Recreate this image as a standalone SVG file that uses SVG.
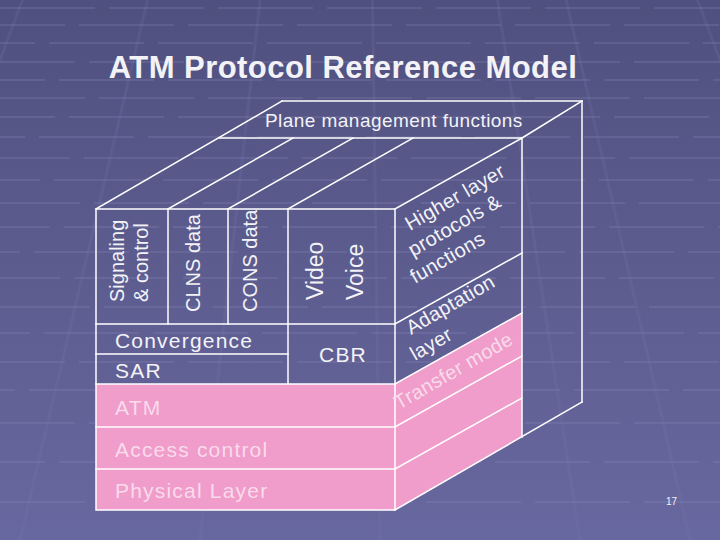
<svg xmlns="http://www.w3.org/2000/svg" width="720" height="540" viewBox="0 0 720 540">
<defs>
<linearGradient id="bg" x1="0" y1="0" x2="0" y2="1">
<stop offset="0" stop-color="#50507f"/>
<stop offset="0.5" stop-color="#5c5c8f"/>
<stop offset="1" stop-color="#6868a0"/>
</linearGradient>
</defs>
<style>
.t{font-family:"Liberation Sans",Arial,sans-serif;fill:#f3f3f7}
.p{fill:#f9dbeb}
.ln{stroke:#ffffff;stroke-width:1.5;fill:none;stroke-linecap:square}
.pk{fill:#f09dcb}
.gh{stroke:#8a8abb;stroke-width:2;opacity:.25;stroke-dasharray:95 14}
.gd{stroke:#7c7cb0;stroke-width:3;opacity:.18}
.col{font-size:20px}
.vv{font-size:23px}
.fr{font-size:21px;letter-spacing:1.2px}
.sd{font-size:20px;letter-spacing:.3px}
</style>
<g id="background">
<rect width="720" height="540" fill="url(#bg)"/>
<g class="gh">
<line x1="0" y1="8" x2="720" y2="8"/><line x1="-30" y1="25" x2="720" y2="25"/>
<line x1="-60" y1="43" x2="720" y2="43"/><line x1="-20" y1="62" x2="720" y2="62"/>
<line x1="-50" y1="80" x2="720" y2="80"/><line x1="-10" y1="98" x2="720" y2="98"/>
<line x1="-40" y1="117" x2="720" y2="117"/><line x1="-70" y1="137" x2="720" y2="137"/>
<line x1="-25" y1="158" x2="720" y2="158"/><line x1="-55" y1="180" x2="720" y2="180"/>
<line x1="-15" y1="203" x2="720" y2="203"/><line x1="-45" y1="227" x2="720" y2="227"/>
<line x1="-75" y1="252" x2="720" y2="252"/><line x1="-35" y1="278" x2="720" y2="278"/>
<line x1="-5" y1="307" x2="720" y2="307"/><line x1="-65" y1="333" x2="720" y2="333"/>
<line x1="-30" y1="362" x2="720" y2="362"/><line x1="-80" y1="390" x2="720" y2="390"/>
<line x1="-20" y1="423" x2="720" y2="423"/><line x1="-50" y1="462" x2="720" y2="462"/>
<line x1="-10" y1="502" x2="720" y2="502"/>
</g>
<g class="gd">
<line x1="360" y1="-900" x2="-400" y2="540"/><line x1="360" y1="-900" x2="-180" y2="540"/>
<line x1="360" y1="-900" x2="20" y2="540"/><line x1="360" y1="-900" x2="200" y2="540"/>
<line x1="360" y1="-900" x2="380" y2="540"/><line x1="360" y1="-900" x2="580" y2="540"/>
<line x1="360" y1="-900" x2="690" y2="540"/><line x1="360" y1="-900" x2="900" y2="540"/>
<line x1="360" y1="-900" x2="1120" y2="540"/>
</g>
</g>
<g id="title">
<text class="t" x="343" y="78" text-anchor="middle" font-size="31" font-weight="bold" letter-spacing="0.45">ATM Protocol Reference Model</text>
</g>
<g id="transfer-mode-fill">
<rect class="pk" x="96" y="384" width="299" height="126"/>
<polygon class="pk" points="395,384 522,313 522,437 395,510"/>
</g>
<g id="connectors" class="ln">
<rect x="96" y="209" width="299" height="301"/>
<line x1="96" y1="324" x2="395" y2="324"/>
<line x1="96" y1="354" x2="288" y2="354"/>
<line x1="96" y1="384" x2="395" y2="384"/>
<line x1="96" y1="427" x2="395" y2="427"/>
<line x1="96" y1="469" x2="395" y2="469"/>
<line x1="168" y1="209" x2="168" y2="324"/>
<line x1="228" y1="209" x2="228" y2="324"/>
<line x1="288" y1="209" x2="288" y2="384"/>
<line x1="96" y1="209" x2="282" y2="101"/>
<line x1="168" y1="209" x2="293" y2="138"/>
<line x1="228" y1="209" x2="353" y2="138"/>
<line x1="288" y1="209" x2="413" y2="138"/>
<polyline points="395,209 522,138 582,101"/>
<line x1="219" y1="138" x2="522" y2="138"/>
<line x1="282" y1="101" x2="582" y2="101"/>
<line x1="582" y1="101" x2="582" y2="402"/>
<line x1="522" y1="138" x2="522" y2="437"/>
<line x1="395" y1="324" x2="522" y2="253"/>
<line x1="395" y1="384" x2="522" y2="313"/>
<line x1="395" y1="427" x2="522" y2="356"/>
<line x1="395" y1="469" x2="522" y2="398"/>
<line x1="395" y1="510" x2="582" y2="402"/>
</g>
<g id="plane-management">
<text class="t" x="265" y="127" font-size="19" letter-spacing="0.45">Plane management functions</text>
</g>
<g id="signaling">
<text class="t col" transform="translate(124,302) rotate(-90)">Signaling</text>
<text class="t col" transform="translate(148,302) rotate(-90)">&amp; control</text>
</g>
<g id="clns">
<text class="t col" transform="translate(200,312) rotate(-90)">CLNS data</text>
</g>
<g id="cons">
<text class="t col" transform="translate(257,312) rotate(-90)">CONS data</text>
</g>
<g id="video-voice">
<text class="t vv" transform="translate(323,300) rotate(-90)">Video</text>
<text class="t vv" transform="translate(363,300) rotate(-90)">Voice</text>
</g>
<g id="convergence"><text class="t fr" x="115" y="348">Convergence</text></g>
<g id="sar"><text class="t fr" x="115" y="378">SAR</text></g>
<g id="cbr"><text class="t fr" x="343" y="362" text-anchor="middle">CBR</text></g>
<g id="atm"><text class="t p fr" x="115" y="415">ATM</text></g>
<g id="access-control"><text class="t p fr" x="115" y="457">Access control</text></g>
<g id="physical-layer"><text class="t p fr" x="115" y="498">Physical Layer</text></g>
<g id="higher-layer">
<text class="t sd" transform="translate(410,231) rotate(-30)">Higher layer</text>
<text class="t sd" transform="translate(413,257) rotate(-30)">protocols &amp;</text>
<text class="t sd" transform="translate(415,284) rotate(-30)">functions</text>
</g>
<g id="adaptation-layer">
<text class="t sd" transform="translate(411,335) rotate(-30)">Adaptation</text>
<text class="t sd" transform="translate(415,361) rotate(-30)">layer</text>
</g>
<g id="transfer-mode">
<text class="t p sd" transform="translate(399,410) rotate(-30)">Transfer mode</text>
</g>
<g id="page-number">
<text class="t" x="666" y="505" font-size="10">17</text>
</g>
</svg>
